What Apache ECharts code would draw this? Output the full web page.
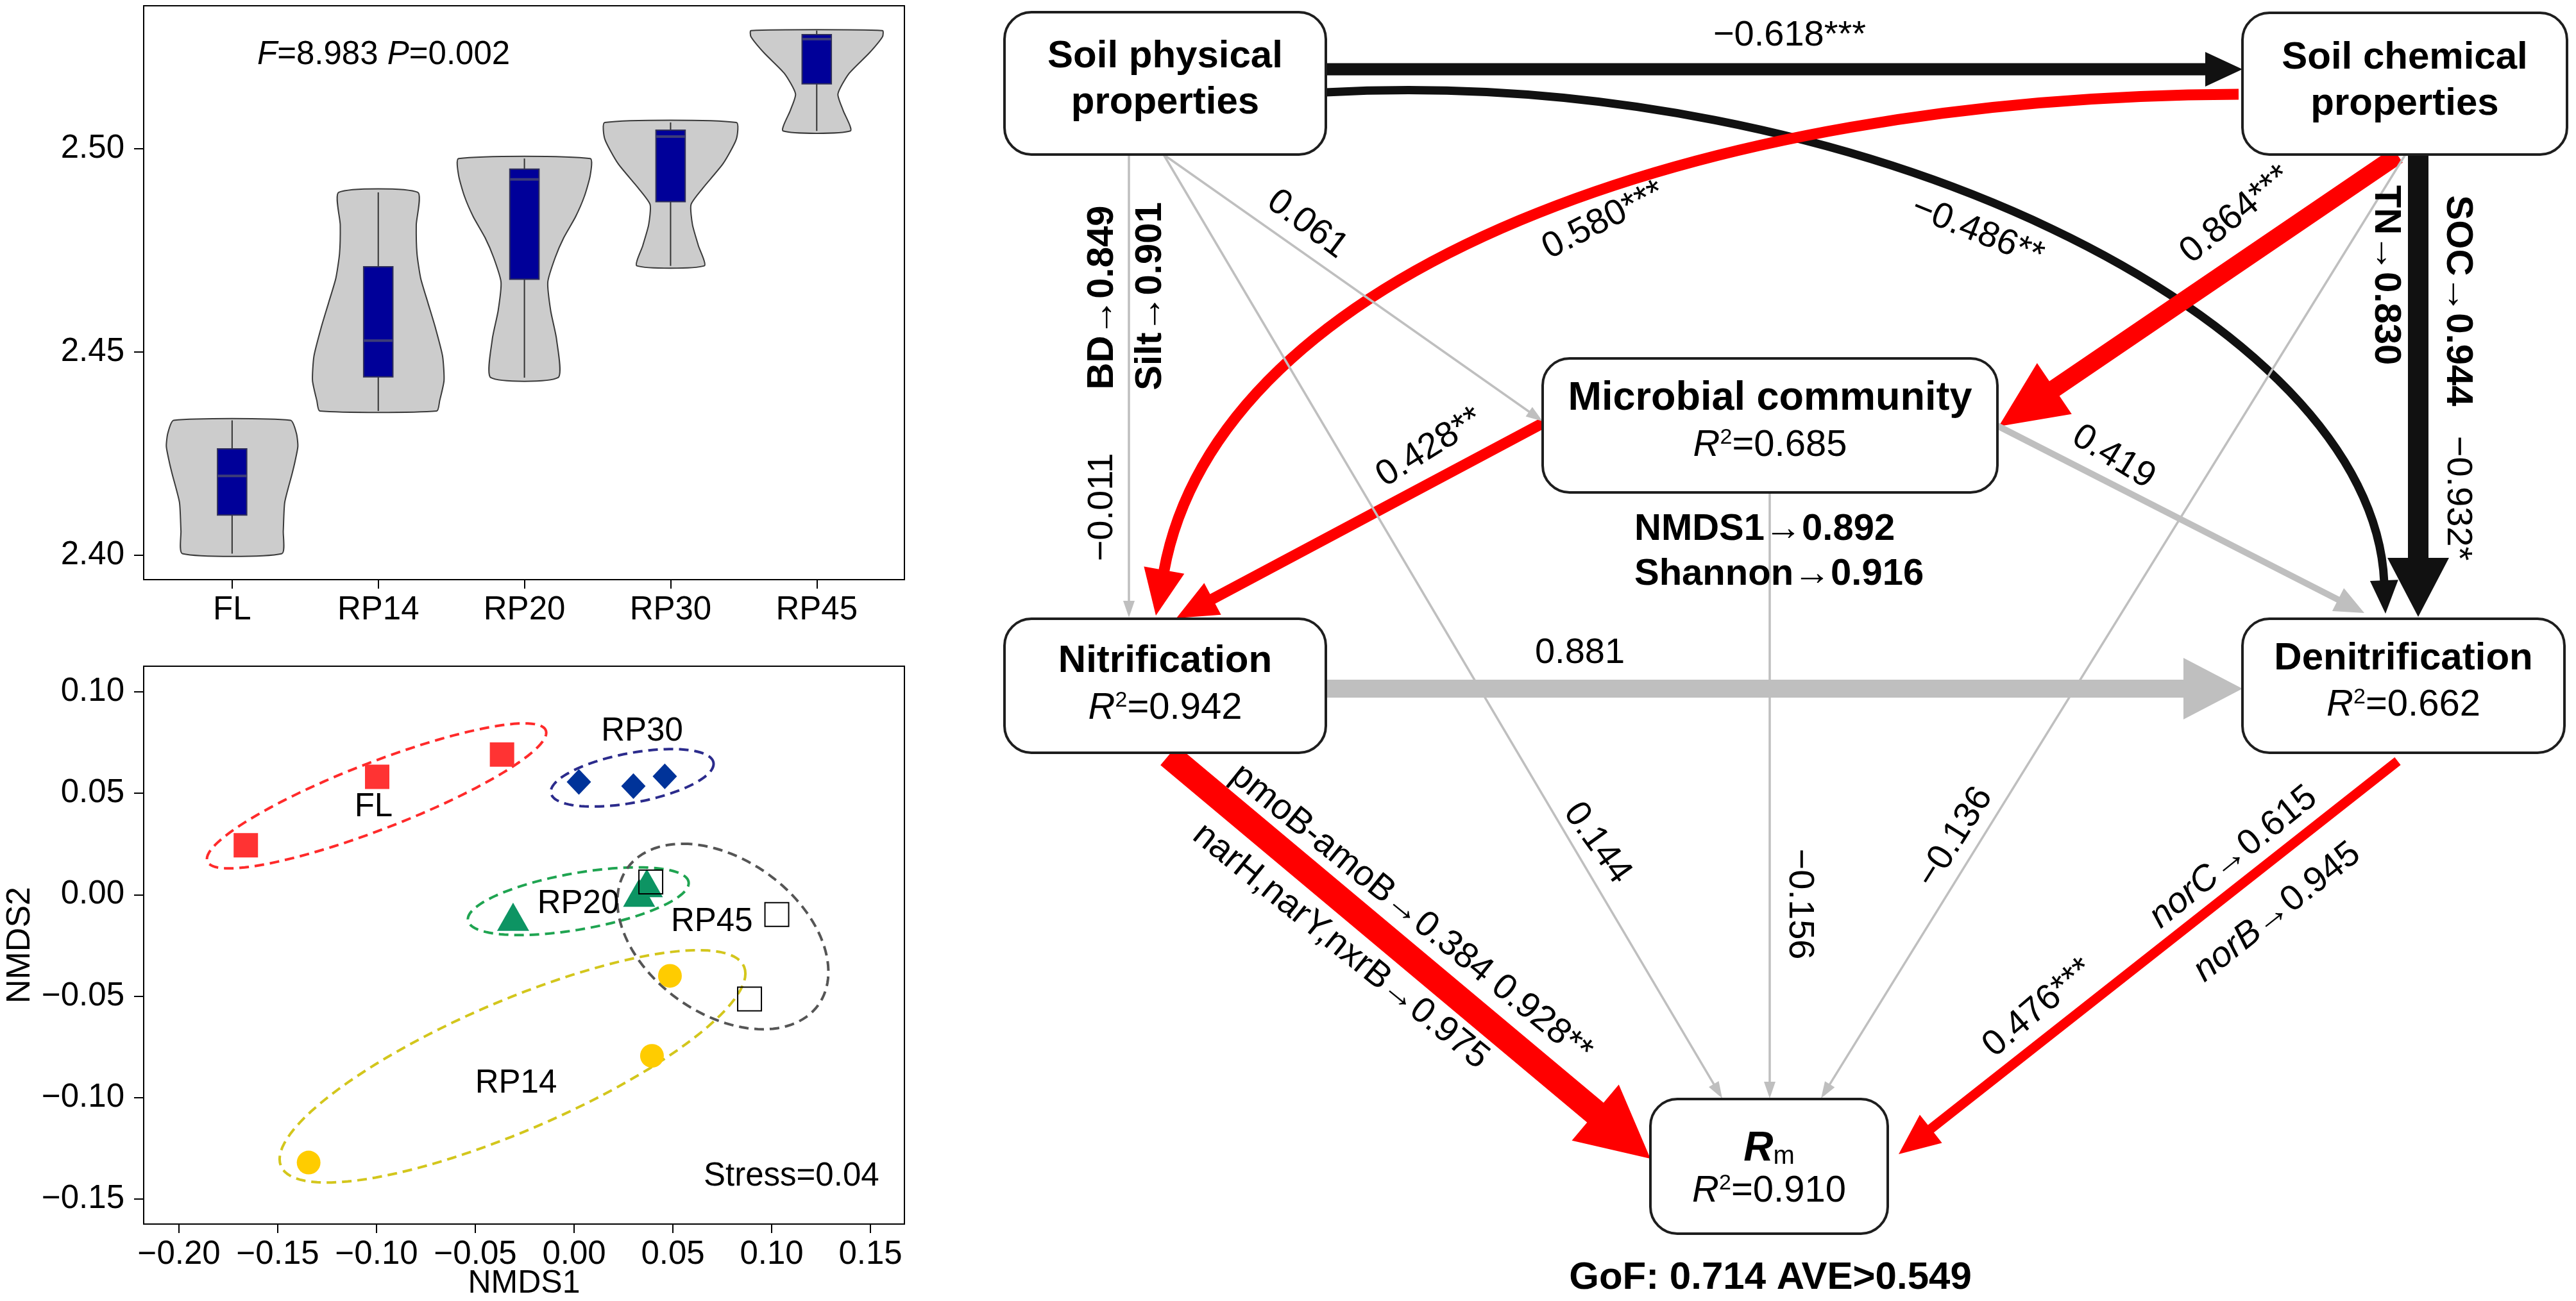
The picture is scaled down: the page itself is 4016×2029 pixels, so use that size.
<!DOCTYPE html>
<html>
<head>
<meta charset="utf-8">
<title>Violin, NMDS and SEM</title>
<script src="https://cdn.jsdelivr.net/npm/echarts@6.0.0/dist/echarts.min.js"></script>
<style>
html,body{margin:0;padding:0;background:#ffffff;}
#chart{width:4016px;height:2029px;}
</style>
</head>
<body>
<div id="chart"></div>
<script>
// ================= DATA =================
// ---- (a) Violin / box plot ----
const groups   = ['FL', 'RP14', 'RP20', 'RP30', 'RP45'];
const groupPos = [1, 2, 3, 4, 5];
const vMin = [2.4004, 2.4355, 2.4437, 2.4712, 2.5044];
const vMax = [2.4332, 2.4893, 2.4976, 2.5065, 2.5291];
const q1   = [2.4099, 2.4439, 2.4679, 2.4870, 2.5160];
const q3   = [2.4262, 2.4710, 2.4950, 2.5046, 2.5281];
const med  = [2.4195, 2.4528, 2.4925, 2.5030, 2.5270];
// density profiles: [value, half width (fraction of group spacing)]
const densFL   = [[2.4332,0.40],[2.4300,0.44],[2.4268,0.45],[2.4230,0.43],[2.4200,0.41],[2.4130,0.36],[2.4060,0.35],[2.4004,0.34]];
const densRP14 = [[2.4893,0.27],[2.4813,0.26],[2.4742,0.265],[2.4682,0.29],[2.4621,0.34],[2.4561,0.39],[2.4490,0.44],[2.4430,0.45],[2.4380,0.42],[2.4355,0.40]];
const densRP20 = [[2.4976,0.45],[2.4934,0.45],[2.4883,0.41],[2.4833,0.35],[2.4782,0.27],[2.4732,0.21],[2.4672,0.16],[2.4601,0.18],[2.4531,0.22],[2.4437,0.23]];
const densRP30 = [[2.5065,0.45],[2.5024,0.45],[2.4964,0.36],[2.4903,0.22],[2.4863,0.14],[2.4813,0.15],[2.4762,0.19],[2.4712,0.23]];
const densRP45 = [[2.5291,0.45],[2.5276,0.45],[2.5236,0.36],[2.5185,0.22],[2.5135,0.145],[2.5095,0.18],[2.5044,0.23]];
const violinDens = [densFL, densRP14, densRP20, densRP30, densRP45];
const violinYTicks = [2.40, 2.45, 2.50];
const anovaF = 8.983, anovaP = 0.002;

// ---- (b) NMDS ----
const nmdsFL   = [[-0.1662, 0.0244], [-0.0997, 0.0581], [-0.0365, 0.0691]];
const nmdsRP30 = [[0.0024, 0.0556], [0.0300, 0.0535], [0.0459, 0.0583]];
const nmdsRP20 = [[-0.0309, -0.0109], [0.0329, 0.0010], [0.0368, 0.0057]];
const nmdsRP45 = [[0.0388, 0.0063], [0.1026, -0.0098], [0.0888, -0.0514]];
const nmdsRP14 = [[0.0485, -0.0400], [0.0394, -0.0794], [-0.1344, -0.1320]];
const nmdsXTicks = [-0.20, -0.15, -0.10, -0.05, 0.00, 0.05, 0.10, 0.15];
const nmdsYTicks = [-0.15, -0.10, -0.05, 0.00, 0.05, 0.10];
// group ellipses: centre and two conjugate semi-axes (data units)
const ellFL   = {c: [-0.1000, 0.0487],  a: [0.0859, 0.0311],  b: [0, 0.0176]};
const ellRP30 = {c: [0.0294, 0.0576],   a: [0.0412, 0.00685], b: [0, 0.0124]};
const ellRP20 = {c: [0.0021, -0.0032],  a: [0.0559, 0.0089],  b: [0, 0.0141]};
const ellRP45 = {c: [0.0753, -0.0206],  a: [-0.0203, 0.0457], b: [0.0494, 0]};
const ellRP14 = {c: [-0.0312, -0.0846], a: [0.1179, 0.0457],  b: [0, 0.0345]};
const nmdsStress = 0.04;

// ---- (c) Structural equation model ----
const semNodes = ['phys', 'chem', 'micro', 'nitr', 'denit', 'rm'];
const semTitles = ['Soil physical\nproperties', 'Soil chemical\nproperties', 'Microbial community', 'Nitrification', 'Denitrification', 'Rm'];
const semR2 = [null, null, 0.685, 0.942, 0.662, 0.910];
// [from, to, path coefficient, significance]
const semPaths = [
  ['phys', 'chem', -0.618, '***'],
  ['phys', 'denit', -0.486, '**'],
  ['chem', 'nitr', 0.580, '***'],
  ['chem', 'micro', 0.864, '***'],
  ['chem', 'denit', -0.932, '*'],
  ['micro', 'nitr', 0.428, '**'],
  ['micro', 'denit', 0.419, ''],
  ['micro', 'rm', -0.156, ''],
  ['phys', 'nitr', -0.011, ''],
  ['phys', 'micro', 0.061, ''],
  ['phys', 'rm', 0.144, ''],
  ['chem', 'rm', -0.136, ''],
  ['nitr', 'denit', 0.881, ''],
  ['nitr', 'rm', 0.928, '**'],
  ['denit', 'rm', 0.476, '***']
];
const loadPhys  = [['BD', 0.849], ['Silt', 0.901]];
const loadChem  = [['TN', 0.830], ['SOC', 0.944]];
const loadMicro = [['NMDS1', 0.892], ['Shannon', 0.916]];
const loadNitr  = [['pmoB-amoB', 0.384], ['narH,narY,nxrB', 0.975]];
const loadDenit = [['norC', 0.615], ['norB', 0.945]];
const semGoF = 0.714, semAVE = 0.549;

// ================= LAYOUT / STYLE =================
const LF = '"Liberation Sans", Arial, Helvetica, sans-serif';
const fnt = (size, weight, style) => [style || '', weight || '', size + 'px', LF].join(' ').trim();
const W = 4016, H = 2029;

const violinColors = {fill: '#cccccc', edge: '#3a3a3a', box: '#000099', boxEdge: '#30305a', median: '#3c3c78'};
const nmdsLabelPos = [
  ['FL', [-0.1015, 0.0431]], ['RP30', [0.0344, 0.0805]], ['RP20', [0.0021, -0.0047]],
  ['RP45', [0.0697, -0.0136]], ['RP14', [-0.0294, -0.0930]]
];
const stressPos = [0.110, -0.139];
const ellStyles = [
  [ellFL, '#ff2a2a'], [ellRP30, '#2b2b8c'], [ellRP20, '#1fa451'], [ellRP45, '#555555'], [ellRP14, '#d3c61c']
];

// SEM geometry in page pixels (drawn on a hidden pixel-scaled grid)
const semBoxes = {
  phys: [1566, 19, 2067, 241], chem: [3496, 20, 4002, 241], micro: [2405, 559, 3114, 768],
  nitr: [1566, 965, 2067, 1174], denit: [3496, 965, 3998, 1174], rm: [2573, 1714, 2943, 1924]
};
const semTitleY = {phys: [124.5], chem: [126], micro: [622, 695], nitr: [1031, 1105], denit: [1027, 1100], rm: [1792, 1858]};
const semTitleSize = {phys: 60, chem: 60, micro: 63, nitr: 60, denit: 60};
const semGeom = {
  'phys-chem':  {p: [[2067, 108], [3496, 108]], w: 19, hl: 58, hw: 54},
  'phys-denit': {curve: true, p: [[2067, 144], [2900, 100], [3700, 500], [3719, 957]], w: 13, hl: 52, hw: 44},
  'chem-nitr':  {curve: true, p: [[3490, 147], [2650, 150], [1900, 420], [1802, 960]], w: 17, hl: 72, hw: 64},
  'chem-micro': {p: [[3738, 242], [3116, 665]], w: 28, hl: 105, hw: 96},
  'chem-denit': {p: [[3770, 241], [3770, 962]], w: 32, hl: 92, hw: 96},
  'micro-nitr': {p: [[2405, 660], [1834, 964]], w: 17, hl: 64, hw: 56},
  'micro-denit':{p: [[3114, 664], [3686, 956]], w: 10, hl: 46, hw: 40},
  'micro-rm':   {p: [[2759, 768], [2759, 1713]], w: 3.5, hl: 26, hw: 18},
  'phys-nitr':  {p: [[1760, 241], [1760, 963]], w: 3.5, hl: 26, hw: 18},
  'phys-micro': {p: [[1814, 241], [2405, 657]], w: 3.5, hl: 26, hw: 18},
  'phys-rm':    {p: [[1814, 241], [2685, 1713]], w: 3.5, hl: 26, hw: 18},
  'chem-rm':    {p: [[3750, 241], [2839, 1713]], w: 3.5, hl: 26, hw: 18},
  'nitr-denit': {p: [[2067, 1074], [3496, 1074]], w: 28, hl: 92, hw: 96},
  'nitr-rm':    {p: [[1822, 1178], [2573, 1807]], w: 40, hl: 112, hw: 114},
  'denit-rm':   {p: [[3738, 1187], [2960, 1800]], w: 15, hl: 64, hw: 56}
};
// label centre and rotation (radians, counter-clockwise)
const semLabelPos = {
  'phys-chem': [2790, 56, 0], 'phys-denit': [3083, 362, -0.38], 'chem-nitr': [2500, 344, 0.47],
  'chem-micro': [3486, 335, 0.69], 'chem-denit': [3831, 777, -Math.PI / 2], 'micro-nitr': [2229, 698, 0.56],
  'micro-denit': [3295, 713, -0.55], 'micro-rm': [2805, 1410, -Math.PI / 2], 'phys-nitr': [1719, 791, Math.PI / 2],
  'phys-micro': [2038, 350, -0.64], 'phys-rm': [2490, 1315, -0.95], 'chem-rm': [3048, 1306, 1.01],
  'nitr-denit': [2463, 1019, 0], 'nitr-rm': [2200, 1425, -0.68], 'denit-rm': [3178, 1572, 0.70]
};
const semLoadPos = {
  phys: [[1719, 464, Math.PI / 2], [1794, 462, Math.PI / 2]],
  chem: [[3719, 429, -Math.PI / 2], [3831, 469, -Math.PI / 2]],
  micro: [[2548, 826, 0, 'left'], [2548, 896, 0, 'left']],
  nitr: [[2090, 1476, -0.68]],
  denit: [[3482, 1337, 0.68], [3550, 1423, 0.67]]
};
const gofPos = [2760, 1993];

// ================= HELPERS =================
const fmtNum = (v, d) => (v < 0 ? '\u2212' : '') + Math.abs(v).toFixed(d);
const pathColor = (coef, sig) => !sig ? '#bfbfbf' : (coef > 0 ? '#ff0000' : '#111111');
const ARROW = '\u2192';

function textEl(p, text, font, opt) {
  opt = opt || {};
  const st = {
    text: text, font: font, fill: opt.fill || '#000',
    textAlign: opt.align || 'center', align: opt.align || 'center',
    textVerticalAlign: 'middle', verticalAlign: 'middle'
  };
  if (opt.rich) st.rich = opt.rich;
  if (opt.lineHeight) st.lineHeight = opt.lineHeight;
  return {type: 'text', x: p[0], y: p[1], rotation: opt.rot || 0, style: st, z2: 20};
}

function straightArrow(p0, p1, w, hl, hw, color) {
  const dx = p1[0] - p0[0], dy = p1[1] - p0[1], L = Math.hypot(dx, dy);
  const ux = dx / L, uy = dy / L, nx = -uy, ny = ux;
  const bx = p1[0] - ux * hl, by = p1[1] - uy * hl;
  const w2 = w / 2, h2 = hw / 2;
  return {
    type: 'polygon', z2: 1,
    shape: {points: [
      [p0[0] + nx * w2, p0[1] + ny * w2], [bx + nx * w2, by + ny * w2], [bx + nx * h2, by + ny * h2],
      [p1[0], p1[1]], [bx - nx * h2, by - ny * h2], [bx - nx * w2, by - ny * w2], [p0[0] - nx * w2, p0[1] - ny * w2]
    ]},
    style: {fill: color}
  };
}

function curveArrow(pts, w, hl, hw, color) {
  const p0 = pts[0], c1 = pts[1], c2 = pts[2], p3 = pts[3];
  const tx = p3[0] - c2[0], ty = p3[1] - c2[1], L = Math.hypot(tx, ty);
  const ux = tx / L, uy = ty / L, nx = -uy, ny = ux;
  const bx = p3[0] - ux * hl, by = p3[1] - uy * hl;
  return [
    {type: 'bezierCurve', z2: 1,
     shape: {x1: p0[0], y1: p0[1], cpx1: c1[0], cpy1: c1[1], cpx2: c2[0], cpy2: c2[1], x2: bx + ux * 3, y2: by + uy * 3},
     style: {stroke: color, lineWidth: w, fill: 'none', lineCap: 'butt'}},
    {type: 'polygon', z2: 1,
     shape: {points: [[bx + nx * hw / 2, by + ny * hw / 2], [p3[0], p3[1]], [bx - nx * hw / 2, by - ny * hw / 2]]},
     style: {fill: color}}
  ];
}

// ================= RENDERERS =================
function renderViolin(params, api) {
  const i = params.dataIndex;
  const xc = groupPos[i];
  const prof = violinDens[i];
  const right = prof.map(d => api.coord([xc + d[1], d[0]]));
  const left = prof.slice().reverse().map(d => api.coord([xc - d[1], d[0]]));
  const bw = 0.1;
  const tl = api.coord([xc - bw, q3[i]]), br = api.coord([xc + bw, q1[i]]);
  const top = api.coord([xc, vMax[i]]), bot = api.coord([xc, vMin[i]]);
  const mL = api.coord([xc - bw, med[i]]), mR = api.coord([xc + bw, med[i]]);
  return {type: 'group', children: [
    {type: 'polygon', shape: {points: right.concat(left), smooth: 0.2},
     style: {fill: violinColors.fill, stroke: violinColors.edge, lineWidth: 2}},
    {type: 'line', shape: {x1: top[0], y1: top[1], x2: bot[0], y2: bot[1]},
     style: {stroke: '#333333', lineWidth: 2}},
    {type: 'rect', shape: {x: tl[0], y: tl[1], width: br[0] - tl[0], height: br[1] - tl[1]},
     style: {fill: violinColors.box, stroke: violinColors.boxEdge, lineWidth: 2}},
    {type: 'line', shape: {x1: mL[0], y1: mL[1], x2: mR[0], y2: mR[1]},
     style: {stroke: violinColors.median, lineWidth: 4}}
  ]};
}

function renderEllipse(params, api) {
  const e = ellStyles[params.dataIndex][0], col = ellStyles[params.dataIndex][1];
  const pts = [];
  const N = 120;
  for (let k = 0; k < N; k++) {
    const t = 2 * Math.PI * k / N;
    const ct = Math.cos(t), st = Math.sin(t);
    pts.push(api.coord([e.c[0] + e.a[0] * ct + e.b[0] * st, e.c[1] + e.a[1] * ct + e.b[1] * st]));
  }
  return {type: 'polygon', shape: {points: pts},
          style: {fill: 'none', stroke: col, lineWidth: 4, lineDash: [15, 9]}};
}

function renderNmdsText(params, api) {
  const kids = nmdsLabelPos.map(d => textEl(api.coord(d[1]), d[0], fnt(51)));
  kids.push(textEl(api.coord(stressPos), 'Stress=' + nmdsStress.toFixed(2), fnt(51)));
  return {type: 'group', children: kids};
}

const richR2 = {
  i: {font: fnt(58, '', 'italic')},
  s: {font: fnt(34), verticalAlign: 'top'},
  n: {font: fnt(58)}
};

function renderSEM(params, api) {
  const C = p => api.coord(p);
  const kids = [];
  const labels = [];
  semPaths.forEach(([from, to, coef, sig]) => {
    const key = from + '-' + to;
    const g = semGeom[key];
    const col = pathColor(coef, sig);
    if (g.curve) {
      curveArrow(g.p.map(C), g.w, g.hl, g.hw, col).forEach(e => kids.push(e));
    } else {
      kids.push(straightArrow(C(g.p[0]), C(g.p[1]), g.w, g.hl, g.hw, col));
    }
    const lp = semLabelPos[key];
    let txt = fmtNum(coef, 3) + sig;
    if (key === 'nitr-rm') txt = loadNitr[0][0] + ARROW + loadNitr[0][1].toFixed(3) + ' ' + txt;
    labels.push(textEl(C([lp[0], lp[1]]), txt, fnt(56), {rot: lp[2]}));
  });
  // boxes
  semNodes.forEach((k, i) => {
    const b = semBoxes[k];
    const p0 = C([b[0], b[1]]), p1 = C([b[2], b[3]]);
    kids.push({type: 'rect', z2: 5,
      shape: {x: p0[0], y: p0[1], width: p1[0] - p0[0], height: p1[1] - p0[1], r: 42},
      style: {fill: '#ffffff', stroke: '#1e1e1e', lineWidth: 4}});
    const cx = (b[0] + b[2]) / 2;
    const ty = semTitleY[k];
    if (k === 'rm') {
      labels.push(textEl(C([cx, ty[0]]), '{b|R}{m|m}', fnt(62, 'bold', 'italic'),
        {rich: {b: {font: fnt(64, 'bold', 'italic')}, m: {font: fnt(40), verticalAlign: 'bottom'}}}));
    } else {
      labels.push(textEl(C([cx, ty[0]]), semTitles[i], fnt(semTitleSize[k], 'bold'), {lineHeight: 72}));
    }
    if (semR2[i] != null) {
      labels.push(textEl(C([cx, ty[1]]), '{i|R}{s|2}{n|=' + semR2[i].toFixed(3) + '}', fnt(58), {rich: richR2}));
    }
  });
  // indicator loadings
  loadPhys.forEach((d, j) => {
    const p = semLoadPos.phys[j];
    labels.push(textEl(C([p[0], p[1]]), d[0] + ARROW + d[1].toFixed(3), fnt(58, 'bold'), {rot: p[2]}));
  });
  loadChem.forEach((d, j) => {
    const p = semLoadPos.chem[j];
    labels.push(textEl(C([p[0], p[1]]), d[0] + ARROW + d[1].toFixed(3), fnt(58, 'bold'), {rot: p[2]}));
  });
  loadMicro.forEach((d, j) => {
    const p = semLoadPos.micro[j];
    labels.push(textEl(C([p[0], p[1]]), d[0] + ARROW + d[1].toFixed(3), fnt(58, 'bold'), {rot: p[2], align: p[3]}));
  });
  {
    const p = semLoadPos.nitr[0], d = loadNitr[1];
    labels.push(textEl(C([p[0], p[1]]), d[0] + ARROW + d[1].toFixed(3), fnt(56), {rot: p[2]}));
  }
  loadDenit.forEach((d, j) => {
    const p = semLoadPos.denit[j];
    labels.push(textEl(C([p[0], p[1]]), '{it|' + d[0] + '}{n|' + ARROW + d[1].toFixed(3) + '}', fnt(56),
      {rot: p[2], rich: {it: {font: fnt(56, '', 'italic')}, n: {font: fnt(56)}}}));
  });
  labels.push(textEl(C(gofPos), 'GoF: ' + semGoF.toFixed(3) + ' AVE>' + semAVE.toFixed(3), fnt(60, 'bold')));
  return {type: 'group', children: kids.concat(labels)};
}

// ================= CHART =================
const chart = echarts.init(document.getElementById('chart'), null, {renderer: 'canvas', width: W, height: H});

const axisLine = {show: true, onZero: false, lineStyle: {color: '#000', width: 2}};
const tickStyle = {color: '#000', width: 2};
const labelBase = {color: '#000', fontSize: 51, fontFamily: LF};
const minusFmt = v => fmtNum(v, 2);

const option = {
  animation: false,
  backgroundColor: '#ffffff',
  graphic: [{
    type: 'text', left: 401, top: 60, z: 10,
    style: {
      text: '{it|F}{n|=' + anovaF.toFixed(3) + ' }{it|P}{n|=' + anovaP.toFixed(3) + '}',
      font: fnt(51), fill: '#000',
      rich: {it: {font: fnt(51, '', 'italic')}, n: {font: fnt(51)}}
    }
  }],
  grid: [
    {left: 224, top: 9, width: 1186, height: 895, show: true, borderColor: '#000', borderWidth: 2,
     backgroundColor: 'transparent', containLabel: false, outerBoundsMode: 'none'},
    {left: 224, top: 1039, width: 1186, height: 870, show: true, borderColor: '#000', borderWidth: 2,
     backgroundColor: 'transparent', containLabel: false, outerBoundsMode: 'none'},
    {left: 0, top: 0, width: W, height: H, show: false, containLabel: false, outerBoundsMode: 'none'}
  ],
  xAxis: [
    {gridIndex: 0, type: 'value', min: 0.395, max: 5.6,
     axisLine: axisLine, splitLine: {show: false},
     axisTick: {show: true, length: 14, customValues: groupPos, lineStyle: tickStyle},
     axisLabel: Object.assign({}, labelBase, {customValues: groupPos, margin: 22, formatter: v => groups[Math.round(v) - 1] || ''})},
    {gridIndex: 1, type: 'value', min: -0.2179, max: 0.1672,
     name: 'NMDS1', nameLocation: 'middle', nameGap: 68, nameMoveOverlap: false,
     nameTextStyle: {color: '#000', fontSize: 50, fontFamily: LF},
     axisLine: axisLine, splitLine: {show: false},
     axisTick: {show: true, length: 14, customValues: nmdsXTicks, lineStyle: tickStyle},
     axisLabel: Object.assign({}, labelBase, {customValues: nmdsXTicks, margin: 22, formatter: minusFmt})},
    {gridIndex: 2, type: 'value', min: 0, max: W, show: false}
  ],
  yAxis: [
    {gridIndex: 0, type: 'value', min: 2.394, max: 2.5352,
     axisLine: axisLine, splitLine: {show: false},
     axisTick: {show: true, length: 15, customValues: violinYTicks, lineStyle: tickStyle},
     axisLabel: Object.assign({}, labelBase, {customValues: violinYTicks, margin: 30, formatter: v => v.toFixed(2)})},
    {gridIndex: 1, type: 'value', min: -0.1623, max: 0.1126,
     name: 'NMDS2', nameLocation: 'middle', nameGap: 166, nameRotate: 90, nameMoveOverlap: false,
     nameTextStyle: {color: '#000', fontSize: 52, fontFamily: LF},
     axisLine: axisLine, splitLine: {show: false},
     axisTick: {show: true, length: 15, customValues: nmdsYTicks, lineStyle: tickStyle},
     axisLabel: Object.assign({}, labelBase, {customValues: nmdsYTicks, margin: 30, formatter: minusFmt})},
    {gridIndex: 2, type: 'value', min: 0, max: H, inverse: true, show: false}
  ],
  series: [
    {type: 'custom', name: 'violin', xAxisIndex: 0, yAxisIndex: 0, renderItem: renderViolin,
     data: groupPos.map((x, i) => [x, med[i]]), silent: true, z: 2},
    {type: 'custom', name: 'ellipses', xAxisIndex: 1, yAxisIndex: 1, renderItem: renderEllipse,
     data: ellStyles.map(e => e[0].c), silent: true, z: 2},
    {type: 'scatter', name: 'FL', xAxisIndex: 1, yAxisIndex: 1, data: nmdsFL,
     symbol: 'rect', symbolSize: 38, itemStyle: {color: '#ff3333', opacity: 1}, z: 4},
    {type: 'scatter', name: 'RP30', xAxisIndex: 1, yAxisIndex: 1, data: nmdsRP30,
     symbol: 'diamond', symbolSize: [38, 40], itemStyle: {color: '#003399', opacity: 1}, z: 4},
    {type: 'scatter', name: 'RP20', xAxisIndex: 1, yAxisIndex: 1, data: nmdsRP20,
     symbol: 'triangle', symbolSize: [50, 44], itemStyle: {color: '#0d9463', opacity: 1}, z: 4},
    {type: 'scatter', name: 'RP45', xAxisIndex: 1, yAxisIndex: 1, data: nmdsRP45,
     symbol: 'rect', symbolSize: 37, itemStyle: {color: 'rgba(255,255,255,0)', borderColor: '#000', borderWidth: 2, opacity: 1}, z: 5},
    {type: 'scatter', name: 'RP14', xAxisIndex: 1, yAxisIndex: 1, data: nmdsRP14,
     symbol: 'circle', symbolSize: 37, itemStyle: {color: '#ffcc00', opacity: 1}, z: 4},
    {type: 'custom', name: 'nmdsText', xAxisIndex: 1, yAxisIndex: 1, renderItem: renderNmdsText,
     data: [[0, 0]], silent: true, z: 6},
    {type: 'custom', name: 'sem', xAxisIndex: 2, yAxisIndex: 2, renderItem: renderSEM,
     data: [[0, 0]], silent: true, z: 3, clip: false}
  ]
};
chart.setOption(option);
</script>
</body>
</html>
